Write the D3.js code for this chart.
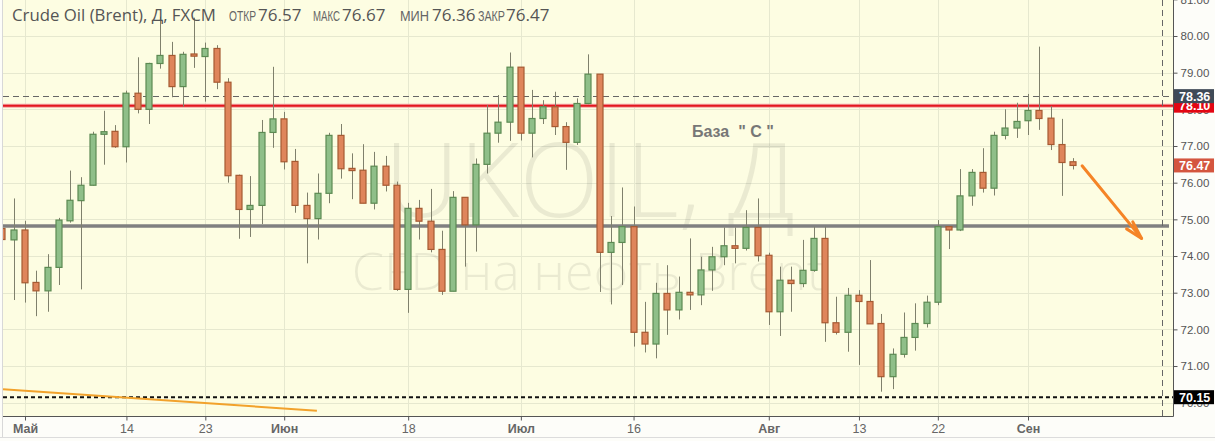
<!DOCTYPE html>
<html>
<head>
<meta charset="utf-8">
<script src="https://cdnjs.cloudflare.com/ajax/libs/d3/7.8.5/d3.min.js"></script>
<style>
  body { margin: 0; background: #ffffff; }
  svg { display: block; }
  .ytick text { font-family: "Liberation Sans", Arial, sans-serif; font-size: 11.5px; fill: #555; }
  .xtick text { font-family: "Liberation Sans", Arial, sans-serif; font-size: 12.5px; fill: #666; }
</style>
</head>
<body>
<div id="chart"></div>
<script>
// daily candles, first one is two sessions before 1 May
var firstIndex = -2;
var opens  = [74.75,74.44,74.71,73.28,73.05,73.69,74.96,75.51,75.93,77.32,77.40,76.98,78.44,78.00,79.25,79.47,78.62,79.51,79.44,79.66,
              78.74,76.20,75.27,75.38,77.37,77.74,76.58,75.38,75.02,75.71,77.29,76.39,76.34,75.44,76.45,75.93,73.09,75.30,74.95,74.18,
              73.04,75.60,74.85,76.50,77.35,77.65,79.15,77.35,77.75,78.07,77.53,77.10,78.16,78.96,74.10,74.37,74.80,71.92,71.60,72.98,
              72.53,73.01,72.94,73.62,73.98,74.28,74.21,74.78,74.02,72.48,73.34,73.25,73.61,74.48,72.18,71.92,72.93,72.76,72.16,70.71,
              71.32,71.78,72.16,72.74,74.80,74.71,75.64,76.28,75.85,77.29,77.49,77.69,77.97,77.76,77.04,76.57];
var highs  = [74.80,75.57,74.96,73.60,74.05,75.04,76.33,76.15,77.39,77.96,77.57,78.51,79.42,79.27,80.53,79.84,79.57,80.50,79.82,79.75,
              78.85,76.22,76.18,77.71,79.16,77.93,76.92,75.73,76.25,77.36,77.60,76.80,77.05,76.84,76.73,76.03,75.45,75.53,75.83,74.69,
              75.77,75.60,76.66,78.12,78.39,79.55,79.15,78.53,78.25,78.48,77.65,78.30,79.50,78.96,75.09,75.87,75.35,72.75,73.27,73.75,
              73.44,74.48,73.98,74.25,74.78,74.78,75.25,75.57,74.09,73.71,73.71,74.44,74.80,74.80,72.89,73.13,73.07,73.89,72.42,71.48,
              72.46,72.71,72.92,74.98,74.80,76.37,76.37,76.94,77.39,78.00,78.18,78.42,79.71,78.09,77.74,76.67];
var lows   = [74.40,72.80,72.73,72.36,72.48,73.21,74.91,73.09,75.92,76.49,76.95,76.55,77.89,77.60,79.11,78.33,78.07,79.13,78.21,78.55,
              76.00,74.47,74.52,74.87,76.95,76.36,75.18,73.80,74.45,75.44,76.11,75.55,75.44,75.27,75.76,73.05,72.45,74.45,74.10,72.94,
              73.04,73.71,74.12,76.25,77.09,77.14,77.15,76.69,77.60,77.30,76.35,77.03,78.14,73.02,72.68,73.21,71.53,71.37,71.21,71.85,
              72.27,72.53,72.66,73.05,73.75,73.80,74.15,73.85,72.12,71.82,72.48,73.15,73.57,71.66,71.86,71.39,71.03,72.15,70.30,70.37,
              71.23,71.42,72.05,72.66,74.19,74.68,75.37,75.73,75.65,77.18,77.22,77.30,77.44,76.89,75.64,76.36];
var closes = [74.45,74.71,73.27,73.05,73.69,74.98,75.52,75.93,77.32,77.39,76.98,78.44,78.00,79.25,79.47,78.62,79.50,79.45,79.66,78.74,
              76.19,75.27,75.38,77.37,77.74,76.57,75.38,75.02,75.71,77.29,76.38,76.33,75.44,76.45,75.93,73.09,75.30,74.95,74.18,73.04,
              75.60,74.85,76.50,77.35,77.65,79.15,77.35,77.75,78.07,77.53,77.10,78.16,78.96,74.10,74.37,74.80,71.92,71.60,72.98,72.53,
              73.01,72.94,73.62,73.98,74.28,74.21,74.78,74.01,72.48,73.34,73.25,73.61,74.48,72.18,71.92,72.93,72.76,72.15,70.71,71.32,
              71.78,72.16,72.74,74.80,74.71,75.64,76.28,75.85,77.29,77.49,77.67,77.97,77.75,77.04,76.55,76.47];

// x ticks: session index and label
var xTickIndex  = [0, 9, 16, 23, 34, 44, 54, 66, 74, 81, 89];
var xTickLabels = ["Май", "14", "23", "Июн", "18", "Июл", "16", "Авг", "13", "22", "Сен"];
var monthTicks  = ["Май", "Июн", "Июл", "Авг", "Сен"];
var yTicks = [70, 71, 72, 73, 74, 75, 76, 77, 78, 79, 80, 81];

// drawn levels
var redLevel = 78.10, lastHigh = 78.36, baseLevel = 74.82, lowLevel = 70.15, lastClose = 76.47;
var crossIndex = 100.9;
// hand-drawn lines, [index, price]
var trendLine = [[-1.95, 70.37], [25.9, 69.78]];
var arrowShaft = [[93.8, 76.46], [99.08, 74.48]];
var arrowHead = [[97.75, 74.74], [99.08, 74.48], [98.3, 74.93]];

var header = { title: "Crude Oil (Brent), Д, FXCM",
  fields: ["ОТКР", "МАКС", "МИН", "ЗАКР"], values: ["76.57", "76.67", "76.36", "76.47"] };
var fieldX = [229, 313, 400, 478], fieldLen = [27, 27, 29, 27], valueX = [258, 342, 432, 506];

var W = 1215, H = 441;
var plot = { left: 3, right: 1173, top: 0, bottom: 416 };

var candles = opens.map(function (o, i) {
  return { i: i + firstIndex, o: o, h: highs[i], l: lows[i], c: closes[i] };
});

var svg = d3.select("#chart").append("svg").attr("width", W).attr("height", H);

var x = d3.scaleLinear().domain([0, 89]).range([25, 1028]);
var y = d3.scaleLinear().domain([70, 80]).range([402.7, 36]);

svg.append("rect").attr("x", 0).attr("y", 0).attr("width", W).attr("height", H).attr("fill", "#fdfdf9");
svg.append("rect")
  .attr("x", plot.left).attr("y", plot.top)
  .attr("width", plot.right - plot.left).attr("height", plot.bottom - plot.top)
  .attr("fill", "#fdfde2");

svg.append("clipPath").attr("id", "clip").append("rect")
  .attr("x", plot.left).attr("y", plot.top)
  .attr("width", plot.right - plot.left).attr("height", plot.bottom - plot.top);

var g = svg.append("g").attr("clip-path", "url(#clip)");

// grid
g.selectAll(".hgrid").data(yTicks).enter().append("line")
  .attr("x1", plot.left).attr("x2", plot.right)
  .attr("y1", function (d) { return Math.round(y(d)) + 0.5; })
  .attr("y2", function (d) { return Math.round(y(d)) + 0.5; })
  .attr("stroke", "#e6e8cf");
g.selectAll(".vgrid").data(xTickIndex).enter().append("line")
  .attr("y1", plot.top).attr("y2", plot.bottom)
  .attr("x1", function (d) { return Math.round(x(d)) + 0.5; })
  .attr("x2", function (d) { return Math.round(x(d)) + 0.5; })
  .attr("stroke", "#e6e8cf");

// watermark
g.append("text")
  .attr("x", 590).attr("y", 217)
  .attr("text-anchor", "middle")
  .style("font-family", "'Open Sans', sans-serif").style("font-weight", 300)
  .style("font-size", "104px").attr("fill", "#000").attr("fill-opacity", 0.075)
  .text("UKOIL, Д");
g.append("text")
  .attr("x", 588).attr("y", 290)
  .attr("text-anchor", "middle")
  .style("font-family", "'Open Sans', sans-serif").style("font-weight", 300)
  .style("font-size", "52px").attr("fill", "#000").attr("fill-opacity", 0.075)
  .text("CFD на нефть Brent");

// levels
g.append("line")
  .attr("x1", plot.left).attr("x2", plot.right)
  .attr("y1", y(redLevel)).attr("y2", y(redLevel))
  .attr("stroke", "#f4a6a6").attr("stroke-width", 4);
g.append("line")
  .attr("x1", plot.left).attr("x2", plot.right)
  .attr("y1", y(redLevel)).attr("y2", y(redLevel))
  .attr("stroke", "#e3171e").attr("stroke-width", 2);
g.append("line")
  .attr("x1", plot.left).attr("x2", plot.right)
  .attr("y1", Math.round(y(lastHigh)) + 0.5).attr("y2", Math.round(y(lastHigh)) + 0.5)
  .attr("stroke", "#666").attr("stroke-dasharray", "6,4");
g.append("line")
  .attr("x1", plot.left).attr("x2", plot.right - 4)
  .attr("y1", y(baseLevel)).attr("y2", y(baseLevel))
  .attr("stroke", "#808080").attr("stroke-width", 3.5);
g.append("line")
  .attr("x1", plot.left).attr("x2", plot.right)
  .attr("y1", y(lowLevel)).attr("y2", y(lowLevel))
  .attr("stroke", "#111").attr("stroke-width", 2).attr("stroke-dasharray", "4,3");
g.append("line")
  .attr("x1", Math.round(x(crossIndex)) + 0.5).attr("x2", Math.round(x(crossIndex)) + 0.5)
  .attr("y1", plot.top).attr("y2", plot.bottom)
  .attr("stroke", "#666").attr("stroke-dasharray", "6,4");

// candles
var bodyW = 7;
var cg = g.selectAll(".candle").data(candles).enter().append("g").attr("class", "candle");
cg.append("line")
  .attr("x1", function (d) { return Math.round(x(d.i)) + 0.5; })
  .attr("x2", function (d) { return Math.round(x(d.i)) + 0.5; })
  .attr("y1", function (d) { return y(d.h); })
  .attr("y2", function (d) { return y(d.l); })
  .attr("stroke", "#7f806c");
cg.append("rect")
  .attr("x", function (d) { return Math.round(x(d.i)) - 3; })
  .attr("y", function (d) { return y(Math.max(d.o, d.c)); })
  .attr("width", bodyW - 1)
  .attr("height", function (d) { return Math.max(1.5, Math.abs(y(d.o) - y(d.c))); })
  .attr("fill", function (d) { return d.c >= d.o ? "#8fbf89" : "#df855b"; })
  .attr("stroke", function (d) { return d.c >= d.o ? "#5c8a52" : "#a65a32"; })
  .attr("stroke-width", 1.2);

// hand-drawn lines
var line = d3.line()
  .x(function (d) { return x(d[0]); })
  .y(function (d) { return y(d[1]); });
g.append("path").attr("d", line(trendLine))
  .attr("fill", "none").attr("stroke", "#f2a22c").attr("stroke-width", 2);
g.append("path").attr("d", line(arrowShaft))
  .attr("fill", "none").attr("stroke", "#f58426").attr("stroke-width", 3).attr("stroke-linecap", "round");
g.append("path").attr("d", line(arrowHead))
  .attr("fill", "none").attr("stroke", "#f58426").attr("stroke-width", 3)
  .attr("stroke-linecap", "round").attr("stroke-linejoin", "round");

// label
g.append("text")
  .attr("x", 692).attr("y", 137)
  .style("font-family", "'Liberation Sans', Arial, sans-serif").style("font-weight", "bold")
  .style("font-size", "16px").attr("fill", "#777")
  .attr("xml:space", "preserve")
  .text("База  \" С \"");

// header
svg.append("text").attr("x", 12).attr("y", 21)
  .style("font-family", "'Open Sans', sans-serif").style("font-size", "16.8px")
  .attr("fill", "#555").text(header.title);
header.fields.forEach(function (f, k) {
  svg.append("text").attr("x", fieldX[k]).attr("y", 21)
    .style("font-family", "'Liberation Sans', Arial, sans-serif").style("font-size", "14.5px")
    .attr("textLength", fieldLen[k]).attr("lengthAdjust", "spacingAndGlyphs")
    .attr("fill", "#666").text(f);
  svg.append("text").attr("x", valueX[k]).attr("y", 21)
    .style("font-family", "'Open Sans', sans-serif").style("font-size", "17px")
    .attr("fill", "#555").text(header.values[k]);
});

// axes frame
svg.append("line").attr("x1", plot.right + 0.5).attr("x2", plot.right + 0.5)
  .attr("y1", plot.top).attr("y2", plot.bottom + 0.5).attr("stroke", "#555");
svg.append("line").attr("x1", plot.left).attr("x2", plot.right + 0.5)
  .attr("y1", plot.bottom + 0.5).attr("y2", plot.bottom + 0.5).attr("stroke", "#555");
svg.append("line").attr("x1", 2.5).attr("x2", 2.5)
  .attr("y1", 0).attr("y2", H - 4).attr("stroke", "#d8d8d8");
svg.append("line").attr("x1", 0).attr("x2", W)
  .attr("y1", H - 3.5).attr("y2", H - 3.5).attr("stroke", "#dcdcdc");

var yAxis = d3.axisRight(y).tickValues(yTicks).tickSize(4).tickPadding(3)
  .tickFormat(d3.format(".2f"));
svg.append("g").attr("class", "ytick")
  .attr("transform", "translate(" + (plot.right + 0.5) + ",0)")
  .call(yAxis)
  .call(function (s) { s.select(".domain").remove(); s.selectAll("line").attr("stroke", "#555"); });

var xAxis = d3.axisBottom(x).tickValues(xTickIndex).tickSize(4).tickPadding(4)
  .tickFormat(function (d, k) { return xTickLabels[k]; });
svg.append("g").attr("class", "xtick")
  .attr("transform", "translate(0," + (plot.bottom + 0.5) + ")")
  .call(xAxis)
  .call(function (s) {
    s.select(".domain").remove();
    s.selectAll("line").attr("stroke", "#555");
    s.selectAll("text")
      .style("font-weight", function (d, k) { return monthTicks.indexOf(xTickLabels[k]) >= 0 ? "bold" : "normal"; })
      .attr("fill", function (d, k) { return monthTicks.indexOf(xTickLabels[k]) >= 0 ? "#555" : "#666"; });
  });

// price tags on the axis
var tags = [
  { v: redLevel, bg: "#e30613", txt: redLevel.toFixed(2) },
  { v: lastHigh, bg: "#3f4a57", txt: lastHigh.toFixed(2) },
  { v: lastClose, bg: "#d4553f", txt: lastClose.toFixed(2) },
  { v: lowLevel, bg: "#000", txt: lowLevel.toFixed(2) }
];
var tg = svg.selectAll(".tag").data(tags).enter().append("g");
tg.append("rect")
  .attr("x", plot.right + 1).attr("y", function (d) { return y(d.v) - 7; })
  .attr("width", 40).attr("height", 14).attr("fill", function (d) { return d.bg; });
tg.append("text")
  .attr("x", plot.right + 6).attr("y", function (d) { return y(d.v) + 4.5; })
  .style("font-family", "'Liberation Sans', Arial, sans-serif").style("font-weight", "bold")
  .style("font-size", "12.5px").attr("fill", "#fff")
  .text(function (d) { return d.txt; });
</script>
</body>
</html>
